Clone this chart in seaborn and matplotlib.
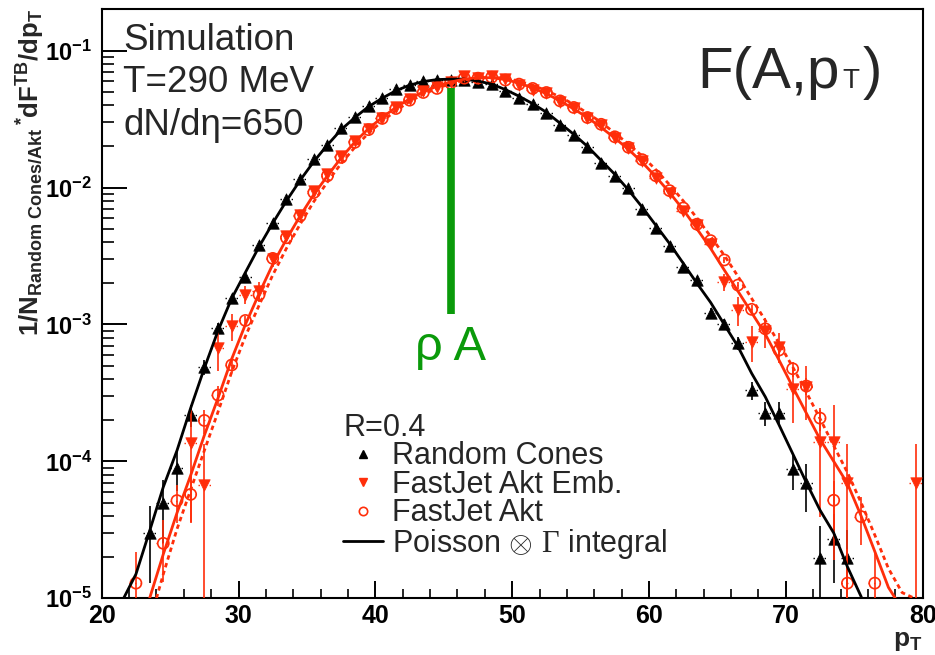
import numpy as np
import pandas as pd
import matplotlib
matplotlib.use("Agg")
import matplotlib.pyplot as plt
import seaborn as sns
from matplotlib.lines import Line2D
from matplotlib.ticker import FixedLocator, NullFormatter

# ---------------- data ----------------
rc_x = [23.5, 24.5, 25.5, 26.5, 27.5, 28.5, 29.5, 30.5, 31.5, 32.5,
        33.5, 34.5, 35.5, 36.5, 37.5, 38.5, 39.5, 40.5, 41.5, 42.5,
        43.5, 44.5, 45.5, 46.5, 47.5, 48.5, 49.5, 50.5, 51.5, 52.5,
        53.5, 54.5, 55.5, 56.5, 57.5, 58.5, 59.5, 60.5, 61.5, 62.5,
        63.5, 64.5, 65.5, 66.5, 67.5, 68.5, 69.5, 70.5, 71.5, 72.5,
        73.5, 74.5]
rc_y = [3.0e-5, 4.95e-5, 8.9e-5, 2.18e-4, 4.87e-4, 9.4e-4, 1.55e-3, 2.23e-3, 3.81e-3, 5.55e-3,
        8.3e-3, 1.16e-2, 1.61e-2, 2.05e-2, 2.71e-2, 3.26e-2, 3.95e-2, 4.54e-2, 5.23e-2, 5.62e-2,
        6.0e-2, 6.1e-2, 6.15e-2, 6.15e-2, 5.95e-2, 5.7e-2, 5.05e-2, 4.55e-2, 4.1e-2, 3.5e-2,
        2.87e-2, 2.42e-2, 1.99e-2, 1.5e-2, 1.22e-2, 9.9e-3, 7.0e-3, 5.05e-3, 3.75e-3, 2.62e-3,
        2.1e-3, 1.22e-3, 1.01e-3, 7.3e-4, 3.3e-4, 2.27e-4, 2.27e-4, 8.8e-5, 6.9e-5, 1.96e-5,
        2.7e-5, 1.96e-5]
rc_err = [1.7e-5, 2.4e-5, 2.8e-5, 4.0e-5, 6.0e-5, 8.0e-5, 1.0e-4, 1.2e-4, 1.5e-4, 2.0e-4,
          2.5e-4, 3.0e-4, 3.5e-4, 4.0e-4, 4.5e-4, 5.0e-4, 5.5e-4, 6.0e-4, 6.5e-4, 6.5e-4,
          7.0e-4, 7.0e-4, 7.0e-4, 7.0e-4, 7.0e-4, 7.0e-4, 6.5e-4, 6.0e-4, 6.0e-4, 5.5e-4,
          5.0e-4, 4.5e-4, 4.0e-4, 3.5e-4, 3.0e-4, 2.8e-4, 2.4e-4, 2.0e-4, 1.8e-4, 1.5e-4,
          1.3e-4, 1.0e-4, 9.0e-5, 8.0e-5, 5.0e-5, 4.5e-5, 4.5e-5, 2.6e-5, 2.6e-5, 1.4e-5,
          1.4e-5, 1.2e-5]

emb_x = [26.5, 27.5, 28.5, 29.5, 30.5, 31.5, 32.5, 33.5, 34.5, 35.5,
         36.5, 37.5, 38.5, 39.5, 40.5, 41.5, 42.5, 43.5, 44.5, 45.5,
         46.5, 47.5, 48.5, 49.5, 50.5, 51.5, 52.5, 53.5, 54.5, 55.5,
         56.5, 57.5, 58.5, 59.5, 60.5, 61.5, 62.5, 63.5, 64.5, 65.5,
         66.5, 67.5, 68.5, 69.5, 70.5, 71.5, 72.5, 73.5, 74.5, 79.5]
emb_y = [1.36e-4, 6.7e-5, 6.7e-4, 9.8e-4, 1.65e-3, 1.75e-3, 3.0e-3, 4.4e-3, 6.3e-3, 9.4e-3,
         1.25e-2, 1.7e-2, 2.18e-2, 2.7e-2, 3.25e-2, 3.85e-2, 4.4e-2, 5.05e-2, 5.4e-2, 5.9e-2,
         6.5e-2, 6.35e-2, 6.5e-2, 6.2e-2, 5.6e-2, 5.2e-2, 4.9e-2, 4.2e-2, 3.8e-2, 3.2e-2,
         2.85e-2, 2.3e-2, 1.95e-2, 1.57e-2, 1.18e-2, 9.1e-3, 6.8e-3, 5.3e-3, 3.9e-3, 2.05e-3,
         1.28e-3, 7.5e-4, 8.9e-4, 6.9e-4, 3.4e-4, 3.5e-4, 1.39e-4, 1.39e-4, 6.9e-5, 6.9e-5]
emb_err = [1.0e-4, 6.6e-5, 2.1e-4, 2.2e-4, 2.5e-4, 2.8e-4, 3.5e-4, 4.0e-4, 5.0e-4, 6.0e-4,
           7.0e-4, 8.0e-4, 9.0e-4, 1.0e-3, 1.1e-3, 1.2e-3, 1.3e-3, 1.4e-3, 1.4e-3, 1.5e-3,
           1.5e-3, 1.5e-3, 1.5e-3, 1.5e-3, 1.4e-3, 1.4e-3, 1.3e-3, 1.2e-3, 1.1e-3, 1.0e-3,
           1.0e-3, 9.0e-4, 8.0e-4, 7.0e-4, 6.0e-4, 5.5e-4, 5.0e-4, 4.5e-4, 4.0e-4, 3.0e-4,
           3.0e-4, 2.2e-4, 2.2e-4, 1.7e-4, 1.5e-4, 1.5e-4, 1.0e-4, 1.2e-4, 6.5e-5, 6.5e-5]

akt_x = [22.5, 24.5, 25.5, 26.5, 27.5, 28.5, 29.5, 30.5, 31.5, 32.5,
         33.5, 34.5, 35.5, 36.5, 37.5, 38.5, 39.5, 40.5, 41.5, 42.5,
         43.5, 44.5, 45.5, 46.5, 47.5, 48.5, 49.5, 50.5, 51.5, 52.5,
         53.5, 54.5, 55.5, 56.5, 57.5, 58.5, 59.5, 60.5, 61.5, 62.5,
         63.5, 64.5, 65.5, 66.5, 67.5, 68.5, 69.5, 70.5, 71.5, 72.5,
         73.5, 74.5, 75.5, 76.5]
akt_y = [1.29e-5, 2.52e-5, 5.17e-5, 5.74e-5, 1.99e-4, 3.05e-4, 5.06e-4, 1.07e-3, 1.65e-3, 3.04e-3,
         4.3e-3, 6.2e-3, 9.2e-3, 1.22e-2, 1.66e-2, 2.14e-2, 2.65e-2, 3.2e-2, 3.78e-2, 4.35e-2,
         4.95e-2, 5.3e-2, 5.8e-2, 6.3e-2, 6.3e-2, 6.4e-2, 6.1e-2, 5.7e-2, 5.3e-2, 4.95e-2,
         4.3e-2, 3.85e-2, 3.25e-2, 2.9e-2, 2.35e-2, 1.97e-2, 1.6e-2, 1.22e-2, 9.5e-3, 7.1e-3,
         5.4e-3, 4.1e-3, 2.96e-3, 1.94e-3, 1.29e-3, 9.3e-4, 6.5e-4, 4.75e-4, 3.55e-4, 2.07e-4,
         5.2e-5, 1.29e-5, 3.95e-5, 1.29e-5]
akt_err = [9.0e-6, 1.2e-5, 1.6e-5, 2.2e-5, 4.0e-5, 5.0e-5, 6.5e-5, 9.0e-5, 1.2e-4, 1.6e-4,
           2.0e-4, 2.5e-4, 3.0e-4, 3.5e-4, 4.0e-4, 4.5e-4, 5.0e-4, 5.5e-4, 6.0e-4, 6.5e-4,
           7.0e-4, 7.0e-4, 7.5e-4, 7.5e-4, 7.5e-4, 7.5e-4, 7.5e-4, 7.0e-4, 7.0e-4, 6.5e-4,
           6.0e-4, 5.5e-4, 5.0e-4, 4.5e-4, 4.0e-4, 3.7e-4, 3.3e-4, 3.0e-4, 2.6e-4, 2.2e-4,
           2.0e-4, 1.7e-4, 1.5e-4, 1.2e-4, 1.0e-4, 8.0e-5, 7.0e-5, 6.0e-5, 5.0e-5, 4.0e-5,
           2.0e-5, 1.0e-5, 1.5e-5, 9.0e-6]

fit_rc_x = [21.6, 22.5, 23.5, 24.5, 25.5, 26.5, 27.5, 28.5, 29.5, 30.5,
            31.5, 32.5, 33.5, 34.5, 35.5, 36.5, 37.5, 38.5, 39.5, 40.5,
            41.5, 42.5, 43.5, 44.5, 45.5, 46.5, 47.5, 48.5, 49.5, 50.5,
            51.5, 52.5, 53.5, 54.5, 55.5, 56.5, 57.5, 58.5, 59.5, 60.5,
            61.5, 62.5, 63.5, 64.5, 65.5, 66.5, 67.5, 68.5, 69.5, 70.5,
            71.5, 72.5, 73.5, 74.5, 75.5, 75.9]
fit_rc_y = [1.0e-5, 1.5e-5, 3.1e-5, 6.5e-5, 1.2e-4, 2.45e-4, 4.8e-4, 9.0e-4, 1.55e-3, 2.4e-3,
            3.7e-3, 5.5e-3, 8.0e-3, 1.13e-2, 1.55e-2, 2.05e-2, 2.65e-2, 3.25e-2, 3.9e-2, 4.5e-2,
            5.1e-2, 5.6e-2, 5.95e-2, 6.15e-2, 6.2e-2, 6.2e-2, 6.0e-2, 5.7e-2, 5.2e-2, 4.65e-2,
            4.1e-2, 3.55e-2, 2.95e-2, 2.45e-2, 2.0e-2, 1.58e-2, 1.25e-2, 9.6e-3, 7.2e-3, 5.3e-3,
            3.9e-3, 2.8e-3, 2.0e-3, 1.45e-3, 1.0e-3, 6.9e-4, 4.4e-4, 2.96e-4, 1.85e-4, 1.14e-4,
            7.0e-5, 4.4e-5, 3.0e-5, 1.7e-5, 1.03e-5, 8.0e-6]

fit_emb_x = [23.5, 24.5, 25.5, 26.5, 27.5, 28.5, 29.5, 30.5, 31.5, 32.5,
             33.5, 34.5, 35.5, 36.5, 37.5, 38.5, 39.5, 40.5, 41.5, 42.5,
             43.5, 44.5, 45.5, 46.5, 47.5, 48.5, 49.5, 50.5, 51.5, 52.5,
             53.5, 54.5, 55.5, 56.5, 57.5, 58.5, 59.5, 60.5, 61.5, 62.5,
             63.5, 64.5, 65.5, 66.5, 67.5, 68.5, 69.5, 70.5, 71.5, 72.5,
             73.5, 74.5, 75.5, 76.5, 77.5, 78.0]
fit_emb_y = [1.0e-5, 2.1e-5, 4.2e-5, 7.9e-5, 1.55e-4, 2.9e-4, 5.6e-4, 1.0e-3, 1.68e-3, 2.75e-3,
             4.2e-3, 6.2e-3, 8.9e-3, 1.22e-2, 1.65e-2, 2.15e-2, 2.7e-2, 3.25e-2, 3.85e-2, 4.45e-2,
             5.0e-2, 5.5e-2, 5.9e-2, 6.2e-2, 6.35e-2, 6.35e-2, 6.15e-2, 5.8e-2, 5.35e-2, 4.85e-2,
             4.3e-2, 3.75e-2, 3.25e-2, 2.75e-2, 2.3e-2, 1.9e-2, 1.53e-2, 1.2e-2, 9.2e-3, 6.9e-3,
             5.0e-3, 3.6e-3, 2.5e-3, 1.75e-3, 1.22e-3, 8.5e-4, 5.5e-4, 3.5e-4, 2.25e-4, 1.45e-4,
             1.0e-4, 6.9e-5, 4.0e-5, 2.2e-5, 1.2e-5, 1.0e-5]

fit_akt_x = [24.0, 24.5, 25.5, 26.5, 27.5, 28.5, 29.5, 30.5, 31.5, 32.5,
             33.5, 34.5, 35.5, 36.5, 37.5, 38.5, 39.5, 40.5, 41.5, 42.5,
             43.5, 44.5, 45.5, 46.5, 47.5, 48.5, 49.5, 50.5, 51.5, 52.5,
             53.5, 54.5, 55.5, 56.5, 57.5, 58.5, 59.5, 60.5, 61.5, 62.5,
             63.5, 64.5, 65.5, 66.5, 67.5, 68.5, 69.5, 70.5, 71.5, 72.5,
             73.5, 74.5, 75.5, 76.5, 77.5, 78.5, 79.4]
fit_akt_y = [1.0e-5, 1.5e-5, 3.2e-5, 6.2e-5, 1.2e-4, 2.3e-4, 4.5e-4, 8.2e-4, 1.38e-3, 2.3e-3,
             3.6e-3, 5.4e-3, 7.9e-3, 1.1e-2, 1.5e-2, 1.97e-2, 2.5e-2, 3.05e-2, 3.65e-2, 4.25e-2,
             4.8e-2, 5.3e-2, 5.75e-2, 6.1e-2, 6.3e-2, 6.4e-2, 6.3e-2, 6.0e-2, 5.6e-2, 5.1e-2,
             4.6e-2, 4.05e-2, 3.5e-2, 3.0e-2, 2.5e-2, 2.08e-2, 1.7e-2, 1.35e-2, 1.05e-2, 8.0e-3,
             6.0e-3, 4.4e-3, 3.2e-3, 2.25e-3, 1.55e-3, 1.07e-3, 7.3e-4, 4.9e-4, 3.2e-4, 2.05e-4,
             1.3e-4, 8.3e-5, 5.0e-5, 2.9e-5, 1.65e-5, 1.1e-5, 1.0e-5]

bin_half_width = 0.5
rhoA_x = 45.5
rhoA_y = [1.2e-3, 5.3e-2]

xticks = [20, 30, 40, 50, 60, 70, 80]
xtick_labels = ["20", "30", "40", "50", "60", "70", "80"]
yticks = [1e-5, 1e-4, 1e-3, 1e-2, 1e-1]
ytick_labels = [r"$\mathbf{10^{-5}}$", r"$\mathbf{10^{-4}}$", r"$\mathbf{10^{-3}}$",
                r"$\mathbf{10^{-2}}$", r"$\mathbf{10^{-1}}$"]

series_names = ["Random Cones", "FastJet Akt Emb.", "FastJet Akt"]
fit_name = r"Poisson $\otimes$ $\Gamma$ integral"

RED = "#ff2e0a"
GREEN = "#0a9a0a"
BLACK = "#000000"

# ---------------- style ----------------
sns.set_theme(style="ticks")
plt.rcParams.update({
    "font.family": ["Liberation Sans", "DejaVu Sans"],
    "mathtext.fontset": "custom",
    "mathtext.rm": "Liberation Serif",
    "mathtext.bf": "Liberation Sans:bold",
    "mathtext.it": "Liberation Sans:italic",
    "mathtext.sf": "Liberation Sans",
    "axes.edgecolor": "black",
    "axes.linewidth": 1.5,
    "axes.facecolor": "white",
    "figure.facecolor": "white",
})

fig = plt.figure(figsize=(9.35, 6.55), dpi=100)
ax = fig.add_axes([0.1088, 0.0866, 0.8780, 0.8997])
ax.set_yscale("log")


def draw_points(x, y, err, color, marker, filled, z):
    x = np.asarray(x)
    y = np.asarray(y)
    err = np.asarray(err)
    lower = np.minimum(err, y * 0.999)
    ax.errorbar(x, y, yerr=[lower, err], fmt="none", ecolor=color,
                elinewidth=1.2, capsize=0, zorder=z)
    ebx = ax.errorbar(x, y, xerr=bin_half_width, fmt="none", ecolor=color,
                      elinewidth=1.0, capsize=0, zorder=z)
    ebx[2][0].set_linestyle((0, (1, 3)))
    df = pd.DataFrame({"x": x, "y": y})
    if filled:
        sns.scatterplot(data=df, x="x", y="y", ax=ax, marker=marker, s=68,
                        color=color, edgecolor=color, linewidth=0.5, zorder=z + 0.5,
                        legend=False)
    else:
        sns.scatterplot(data=df, x="x", y="y", ax=ax, marker=marker, s=64,
                        facecolor="none", edgecolor=color, linewidth=1.2, zorder=z + 0.5,
                        legend=False)


draw_points(rc_x, rc_y, rc_err, BLACK, "^", True, 3)
draw_points(emb_x, emb_y, emb_err, RED, "v", True, 4)
draw_points(akt_x, akt_y, akt_err, RED, "o", False, 5)

sns.lineplot(x=fit_rc_x, y=fit_rc_y, ax=ax, color=BLACK, lw=2.0,
             estimator=None, sort=False, zorder=6)
sns.lineplot(x=fit_emb_x, y=fit_emb_y, ax=ax, color=RED, lw=2.0,
             estimator=None, sort=False, zorder=6)
sns.lineplot(x=fit_akt_x, y=fit_akt_y, ax=ax, color=RED, lw=2.0,
             linestyle=(0, (1.6, 1.3)), estimator=None, sort=False, zorder=6)

# rho*A marker line
ax.vlines(rhoA_x, rhoA_y[0], rhoA_y[1], color=GREEN, lw=5.5, zorder=7)

# ---------------- axes ----------------
ax.set_xlim(20, 80)
ax.set_ylim(1e-5, 0.2017)
ax.xaxis.set_major_locator(FixedLocator(xticks))
ax.set_xticklabels(xtick_labels, fontsize=18, fontweight="bold")
ax.xaxis.set_minor_locator(FixedLocator(np.arange(22, 80, 2)))
ax.yaxis.set_major_locator(FixedLocator(yticks))
ax.set_yticklabels(ytick_labels, fontsize=17)
minor_y = [m * 10.0 ** e for e in range(-5, 0) for m in range(2, 10)]
ax.yaxis.set_minor_locator(FixedLocator(minor_y))
ax.yaxis.set_minor_formatter(NullFormatter())
ax.tick_params(axis="x", which="major", direction="in", length=12, width=1.4,
               top=False, bottom=True, pad=4, colors="black")
ax.tick_params(axis="x", which="minor", direction="in", length=6.5, width=1.4,
               top=False, bottom=True)
ax.tick_params(axis="y", which="major", direction="in", length=18, width=1.4,
               left=True, right=False, pad=7, colors="black")
ax.tick_params(axis="y", which="minor", direction="in", length=8.6, width=1.4,
               left=True, right=False)
for s in ax.spines.values():
    s.set_visible(True)
    s.set_linewidth(1.5)
    s.set_color("black")
ax.grid(False)

ax.set_xlabel(r"$\mathbf{p_{T}}$", fontsize=19, loc="right", labelpad=1)
ax.set_ylabel(r"$\mathbf{1/N}_{\mathbf{Random\ Cones/Akt}}\,{}^{\mathbf{*}}\mathbf{dF}^{\mathbf{TB}}\mathbf{/dp}_{\mathbf{T}}$",
              fontsize=18.5, loc="top")
ax.yaxis.set_label_coords(-0.067, 1.0)

# ---------------- texts ----------------
W, H = 935.0, 655.0
for txt, yb in [("Simulation", 50), ("T=290 MeV", 92), ("dN/dη=650", 135)]:
    fig.text(123 / W, 1 - yb / H, txt, fontsize=26.5, ha="left", va="baseline")

fig.text(415 / W, 1 - 360 / H, "ρ A", fontsize=35, color=GREEN, ha="left", va="baseline")

t1 = fig.text(697 / W, 1 - 88 / H, "F(A,p", fontsize=42, ha="left", va="baseline")
fig.canvas.draw()
r = fig.canvas.get_renderer()
bb = t1.get_window_extent(r)
t2 = fig.text((bb.x1 + 3) / W, 1 - 88 / H, "T", fontsize=20, ha="left", va="baseline")
bb2 = t2.get_window_extent(r)
fig.text((bb2.x1 + 3) / W, 1 - 88 / H, ")", fontsize=42, ha="left", va="baseline")

# ---------------- legend ----------------
handles = [
    Line2D([], [], marker="^", color=BLACK, ls="none", ms=5.5),
    Line2D([], [], marker="v", color=RED, ls="none", ms=5.5),
    Line2D([], [], marker="o", color=RED, mfc="none", ls="none", ms=6, mew=1.2),
    Line2D([], [], color=BLACK, lw=2.0),
]
leg = ax.legend(handles, series_names + [fit_name], title="R=0.4",
                loc="upper left", bbox_to_anchor=(343 / W, 1 - 413 / H),
                bbox_transform=fig.transFigure, frameon=False,
                fontsize=22, title_fontsize=22, alignment="left",
                labelspacing=-0.05, handlelength=1.3, handletextpad=0.3,
                borderpad=0, borderaxespad=0)

fig.savefig("out.png", dpi=100)
